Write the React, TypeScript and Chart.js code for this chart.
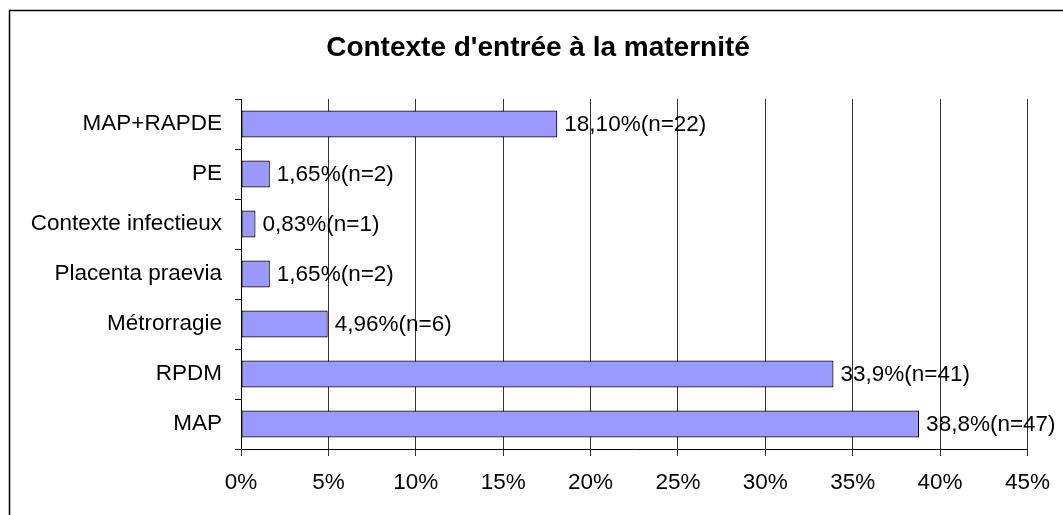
import React, { useEffect, useRef } from "react";
import { Chart, registerables } from "chart.js";

Chart.register(...registerables);

const title = "Contexte d'entrée à la maternité";
const categories = [
  "MAP+RAPDE",
  "PE",
  "Contexte infectieux",
  "Placenta praevia",
  "Métrorragie",
  "RPDM",
  "MAP",
];
const values = [18.1, 1.65, 0.83, 1.65, 4.96, 33.9, 38.8];
const dataLabels = [
  "18,10%(n=22)",
  "1,65%(n=2)",
  "0,83%(n=1)",
  "1,65%(n=2)",
  "4,96%(n=6)",
  "33,9%(n=41)",
  "38,8%(n=47)",
];
const xMin = 0;
const xMax = 45;
const xStep = 5;

const FONT = "'Liberation Sans', Arial, sans-serif";

export default function App() {
  const ref = useRef<HTMLCanvasElement | null>(null);

  useEffect(() => {
    document.body.style.margin = "0";
    const canvas = ref.current;
    if (!canvas) return;

    const framePlugin = {
      id: "frame",
      beforeDraw(chart: any) {
        const ctx = chart.ctx;
        ctx.save();
        ctx.fillStyle = "#fff";
        ctx.fillRect(0, 0, chart.width, chart.height);
        ctx.restore();
      },
      afterDraw(chart: any) {
        const ctx = chart.ctx;
        ctx.save();
        ctx.strokeStyle = "#000";
        ctx.lineWidth = 1.5;
        ctx.strokeRect(9.5, 10.5, 1200, 700);
        ctx.fillStyle = "#000";
        ctx.font = `bold 28px ${FONT}`;
        ctx.textAlign = "center";
        ctx.textBaseline = "alphabetic";
        ctx.fillText(title, 538, 56);
        ctx.restore();
      },
    };

    const labelPlugin = {
      id: "barLabels",
      afterDatasetsDraw(chart: any) {
        const ctx = chart.ctx;
        const meta = chart.getDatasetMeta(0);
        ctx.save();
        ctx.fillStyle = "#000";
        ctx.font = `22.5px ${FONT}`;
        ctx.textAlign = "left";
        ctx.textBaseline = "middle";
        meta.data.forEach((bar: any, i: number) => {
          ctx.fillText(dataLabels[i], bar.x + 7, bar.y + 1);
        });
        ctx.restore();
      },
    };

    Chart.defaults.color = "#000";
    const chart = new Chart(canvas, {
      type: "bar",
      data: {
        labels: categories,
        datasets: [
          {
            data: values,
            backgroundColor: "#9999FF",
            borderColor: "#000",
            borderWidth: 1.2,
            borderSkipped: false,
            barPercentage: 0.54,
            categoryPercentage: 1,
          },
        ],
      },
      options: {
        indexAxis: "y",
        animation: false,
        responsive: false,
        devicePixelRatio: 1,
        layout: { padding: { top: 99, right: 34, left: 0, bottom: 0 } },
        plugins: {
          legend: { display: false },
          title: { display: false },
          tooltip: { enabled: false },
        },
        scales: {
          x: {
            min: xMin,
            max: xMax,
            ticks: {
              stepSize: xStep,
              padding: 13,
              color: "#000",
              font: { family: FONT, size: 22.5 },
              callback: (v: any) => `${v}%`,
            },
            grid: {
              color: "#333",
              tickColor: "#333",
              tickLength: 7,
              lineWidth: 1,
            },
            border: { color: "#000", width: 1 },
            afterFit: (scale: any) => {
              scale.height = 66;
            },
          },
          y: {
            ticks: {
              padding: 13,
              color: "#000",
              font: { family: FONT, size: 22.5 },
            },
            grid: {
              drawOnChartArea: false,
              drawTicks: true,
              tickLength: 6,
              color: "#000",
            },
            border: { color: "#000", width: 1 },
            afterFit: (scale: any) => {
              scale.width = 241;
            },
          },
        },
      },
      plugins: [framePlugin, labelPlugin],
    } as any);

    return () => chart.destroy();
  }, []);

  return (
    <canvas
      ref={ref}
      width={1063}
      height={515}
      style={{ display: "block", width: 1063, height: 515 }}
    />
  );
}
